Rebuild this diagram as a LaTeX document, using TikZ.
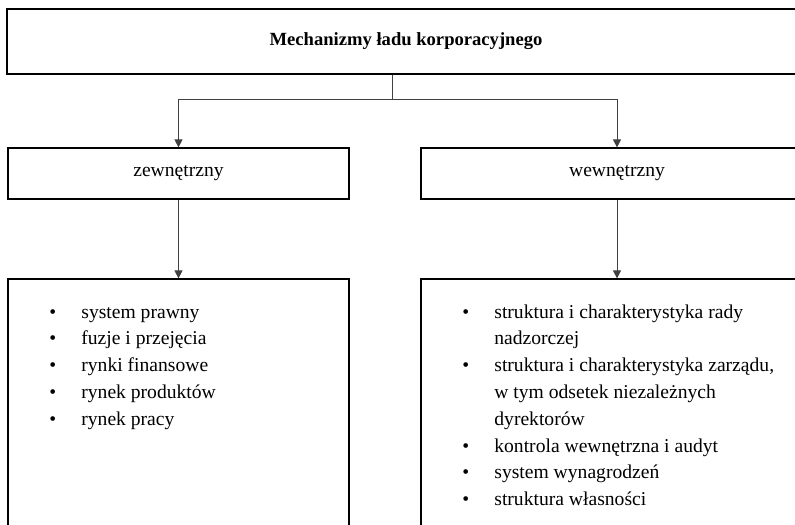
\documentclass[tikz,border=0pt]{standalone}
\usepackage{fontspec}
\setmainfont{Liberation Serif}
\usetikzlibrary{positioning,arrows.meta}
\newcommand{\itm}{\textbullet}

\begin{document}
\begin{tikzpicture}[x=0.5pt, y=-0.5pt,
        every node/.style={font=\fontsize{9.8}{13.4}\selectfont},
        box/.style={draw, line width=0.6pt, inner sep=0pt},
        link/.style={draw=black!75, line width=0.5pt},
        tip/.style={-{Triangle[length=4pt,width=4pt]}}]
        \useasboundingbox (0,0) rectangle (795,524);

        \begin{scope}
            \node[box, minimum width=399pt, minimum height=32.5pt,
                font=\fontsize{9.3}{12}\selectfont\bfseries] (mech) at (406, 41.5)
            {Mechanizmy ładu korporacyjnego};
            \node[box, minimum width=170.5pt, minimum height=25.5pt] (zew) at (178.5, 173.5)
            {zewnętrzny};
            \node[box, minimum width=196pt, minimum height=25.5pt] (wew) at (617, 173.5)
            {wewnętrzny};
            \node[box, minimum width=170.5pt, minimum height=130.5pt] (zewlist) at (178.5, 409.5) {};
            \node[box, minimum width=196pt, minimum height=130.5pt] (wewlist) at (617, 409.5) {};
        \end{scope}

        % lists in the lower boxes
        \node[anchor=north west, inner sep=0pt] (zewtxt) at (49, 299)
        {\begin{tabular}{@{}p{16pt}@{}l@{}}
            \itm & system prawny\\
            \itm & fuzje i przejęcia\\
            \itm & rynki finansowe\\
            \itm & rynek produktów\\
            \itm & rynek pracy
        \end{tabular}};
        \node[anchor=north west, inner sep=0pt] (wewtxt) at (462, 299)
        {\begin{tabular}{@{}p{16pt}@{}l@{}}
            \itm & struktura i charakterystyka rady\\
                 & nadzorczej\\
            \itm & struktura i charakterystyka zarządu,\\
                 & w tym odsetek niezależnych\\
                 & dyrektorów\\
            \itm & kontrola wewnętrzna i audyt\\
            \itm & system wynagrodzeń\\
            \itm & struktura własności
        \end{tabular}};

        \coordinate (split) at (392, 99);

        \begin{scope}[link]
            \draw (split |- mech.south) -- (split);
            \draw[tip] (split) -| (zew.north);
            \draw[tip] (split) -| (wew.north);
            \draw[tip] (zew) -- (zewlist);
            \draw[tip] (wew) -- (wewlist);
        \end{scope}

\end{tikzpicture}
\end{document}
